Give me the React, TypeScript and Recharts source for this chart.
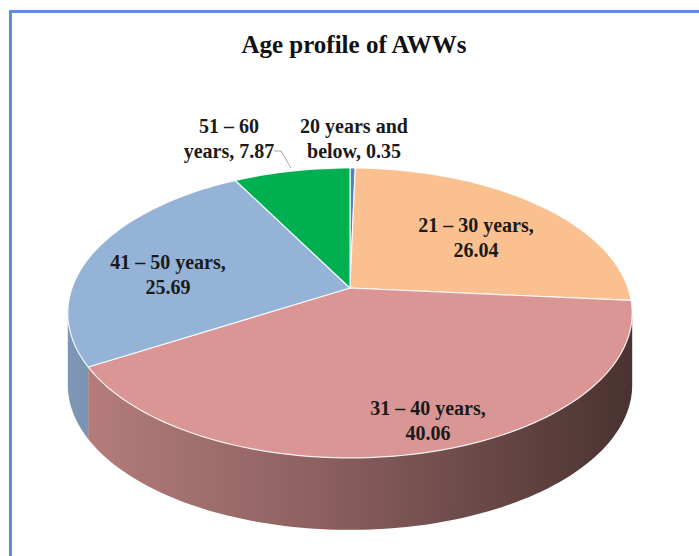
import React from 'react';
import { PieChart, Pie, Cell } from 'recharts';

const CATEGORIES = ['20 years and below', '21 – 30 years', '31 – 40 years', '41 – 50 years', '51 – 60 years'];
const SHARES = [0.35, 26.04, 40.06, 25.69, 7.87];
const COLORS = ['#4F81BD', '#FAC090', '#D99694', '#95B3D7', '#00B050'];
// outside labels break after this many words, inside labels break after the name
const OUTSIDE_BREAK = [3, 0, 0, 0, 3];

const data = CATEGORIES.map((name, i) => ({ name, value: SHARES[i] }));

const W = 699;
const H = 556;
const CX = 350;
const CY = 288;
const R = 278;
const SQUASH = 0.506; // tilt of the disc
const PERSP = 0.172; // far edge a little smaller than near edge
const DEPTH = 72;
const FONT = "'Times New Roman', 'Liberation Serif', serif";

// first-line centre of each data label
const LABEL_AT: [number, number][] = [
  [354, 126],
  [476, 225],
  [428, 408],
  [168, 262],
  [229, 126],
];

const RAD = Math.PI / 180;

const project = (cx: number, cy: number, r: number, deg: number) => {
  const u = Math.cos(deg * RAD);
  const v = Math.sin(deg * RAD);
  const w = 1 + PERSP * v;
  return [cx + (r * u) / w, cy - (r * SQUASH * v) / w];
};

const arc = (cx: number, cy: number, r: number, a0: number, a1: number, dy = 0) => {
  const n = Math.max(2, Math.ceil(Math.abs(a1 - a0) / 1.5));
  const pts: string[] = [];
  for (let i = 0; i <= n; i++) {
    const [x, y] = project(cx, cy, r, a0 + ((a1 - a0) * i) / n);
    pts.push(`${x.toFixed(2)},${(y + dy).toFixed(2)}`);
  }
  return pts;
};

const shade = (hex: string, k: number) => {
  const n = parseInt(hex.slice(1), 16);
  const c = [(n >> 16) & 255, (n >> 8) & 255, n & 255].map((v) => Math.round(v * k));
  return `rgb(${c.join(',')})`;
};

const TopFace = (props: any) => {
  const { cx, cy, outerRadius, startAngle, endAngle, fill } = props;
  const pts = arc(cx, cy, outerRadius, startAngle, endAngle);
  const d = `M${cx},${cy}L${pts.join('L')}Z`;
  return <path d={d} fill={fill} stroke="#ffffff" strokeOpacity={0.85} strokeWidth={1.2} strokeLinejoin="round" />;
};

const SideWall = (props: any) => {
  const { cx, cy, outerRadius, startAngle, endAngle, fill } = props;
  const lo0 = Math.min(startAngle, endAngle);
  const hi0 = Math.max(startAngle, endAngle);
  const edge = Math.asin(PERSP) / RAD;
  const parts: string[] = [];
  [-720, -360, 0, 360].forEach((k) => {
    const lo = Math.max(lo0, 180 + edge + k);
    const hi = Math.min(hi0, 360 - edge + k);
    if (hi > lo) {
      const top = arc(cx, cy, outerRadius, lo, hi);
      const bottom = arc(cx, cy, outerRadius, hi, lo, DEPTH);
      parts.push(`M${top.join('L')}L${bottom.join('L')}Z`);
    }
  });
  if (!parts.length) return <g />;
  return <path d={parts.join('')} fill={fill} stroke="none" />;
};

const renderLabel = (props: any) => {
  const { index } = props;
  const name = CATEGORIES[index];
  const value = SHARES[index].toFixed(2);
  let lines: string[];
  if (OUTSIDE_BREAK[index]) {
    const words = name.split(' ');
    lines = [words.slice(0, OUTSIDE_BREAK[index]).join(' '), `${words.slice(OUTSIDE_BREAK[index]).join(' ')}, ${value}`];
  } else {
    lines = [`${name},`, value];
  }
  const [x, y] = LABEL_AT[index];
  return (
    <g key={`lbl-${index}`}>
      {index === 4 && (
        <polyline points={`${x + 45},${y + 25} ${x + 52},${y + 25} ${x + 62},${y + 42}`} fill="none" stroke="#a6a6a6" strokeWidth={1} />
      )}
      {lines.map((t, j) => (
        <text
          key={j}
          x={x}
          y={y + j * 25 + 7}
          textAnchor="middle"
          fontFamily={FONT}
          fontWeight="bold"
          fontSize={20}
          fill="#1a1a1a"
        >
          {t}
        </text>
      ))}
    </g>
  );
};

export default function App() {
  return (
    <div style={{ position: 'absolute', left: 0, top: 0, width: W, height: H, background: '#ffffff' }}>
      <div
        style={{
          position: 'absolute',
          left: 9,
          top: 10,
          right: 0,
          bottom: 0,
          borderTop: '3px solid #5B8FDB',
          borderLeft: '3px solid #5B8FDB',
        }}
      />
      <div
        style={{
          position: 'absolute',
          left: 0,
          width: 708,
          top: 31,
          textAlign: 'center',
          fontFamily: FONT,
          fontWeight: 'bold',
          fontSize: 25,
          color: '#111111',
        }}
      >
        Age profile of AWWs
      </div>
      <div style={{ position: 'absolute', left: 0, top: 0 }}>
        <PieChart width={W} height={H} margin={{ top: 0, right: 0, bottom: 0, left: 0 }}>
          <defs>
            {COLORS.map((c, i) => (
              <linearGradient key={i} id={`side-${i}`} gradientUnits="userSpaceOnUse" x1={CX - R} y1={0} x2={CX + R} y2={0}>
                <stop offset="0" stopColor={shade(c, 0.84)} />
                <stop offset="0.45" stopColor={shade(c, 0.64)} />
                <stop offset="1" stopColor={shade(c, 0.34)} />
              </linearGradient>
            ))}
          </defs>
          <Pie
            data={data}
            dataKey="value"
            nameKey="name"
            cx={CX}
            cy={CY}
            outerRadius={R}
            startAngle={90}
            endAngle={-270}
            isAnimationActive={false}
            shape={SideWall}
            stroke="none"
          >
            {data.map((d, i) => (
              <Cell key={d.name} fill={`url(#side-${i})`} />
            ))}
          </Pie>
          <Pie
            data={data}
            dataKey="value"
            nameKey="name"
            cx={CX}
            cy={CY}
            outerRadius={R}
            startAngle={90}
            endAngle={-270}
            isAnimationActive={false}
            shape={TopFace}
            label={renderLabel}
            labelLine={false}
            stroke="none"
          >
            {data.map((d, i) => (
              <Cell key={d.name} fill={COLORS[i]} />
            ))}
          </Pie>
        </PieChart>
      </div>
    </div>
  );
}
